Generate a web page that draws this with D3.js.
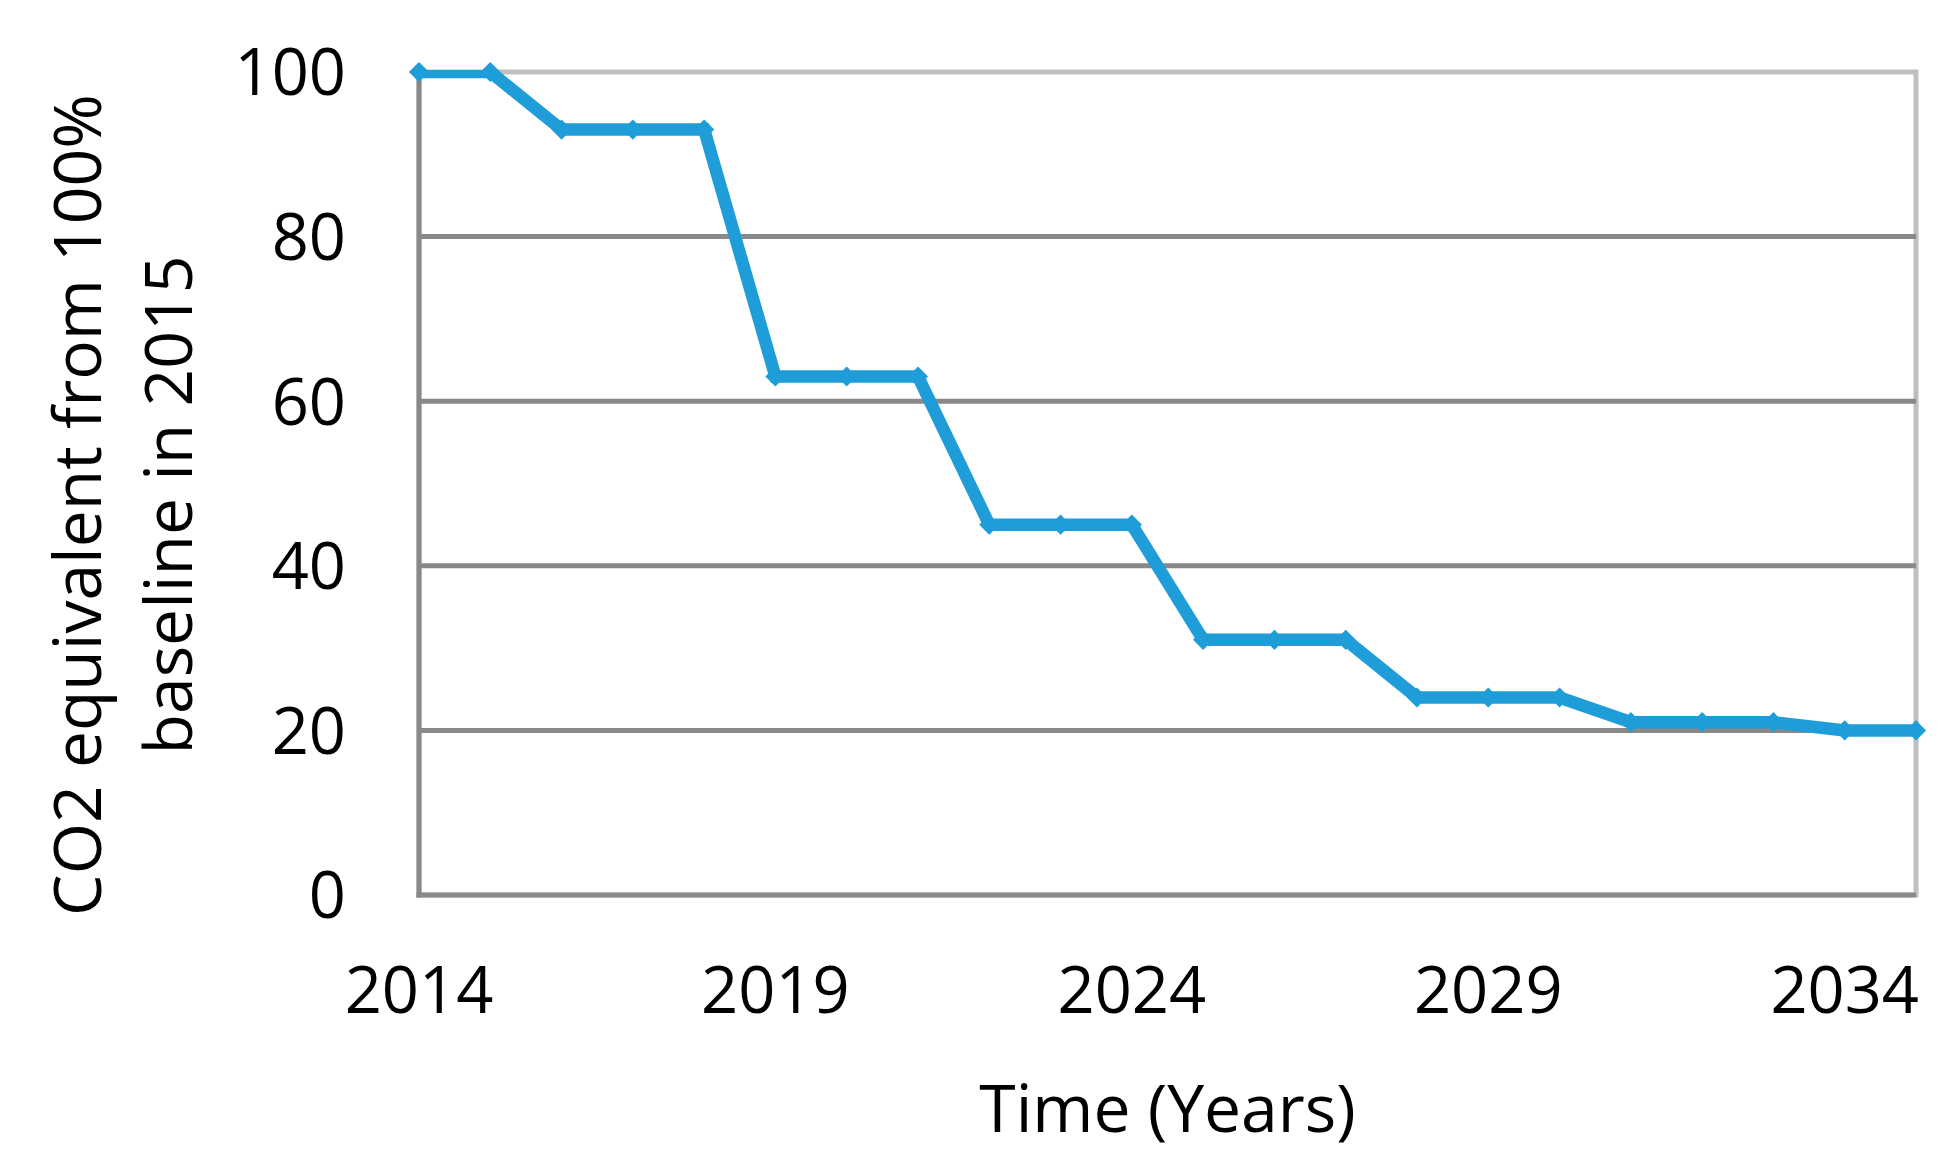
<!DOCTYPE html>
<html>
<head>
<meta charset="utf-8">
<script src="https://cdn.jsdelivr.net/npm/d3@7/dist/d3.min.js"></script>
<style>
  body { margin: 0; background: #fff; }
  svg text { font-family: "Open Sans", "Noto Sans", sans-serif; fill: #000; }
</style>
</head>
<body>
<div id="chart"></div>
<script>
var width = 1960;
var height = 1174;

// data
var years = [2014, 2015, 2016, 2017, 2018, 2019, 2020, 2021, 2022, 2023, 2024,
  2025, 2026, 2027, 2028, 2029, 2030, 2031, 2032, 2033, 2034, 2035];
var co2 = [100, 100, 93, 93, 93, 63, 63, 63, 45, 45, 45,
  31, 31, 31, 24, 24, 24, 21, 21, 21, 20, 20];
var yTicks = [0, 20, 40, 60, 80, 100];
var xTicks = [2014, 2019, 2024, 2029, 2034];
var xTitle = "Time (Years)";
var yTitle = ["CO2 equivalent from 100%", "baseline in 2015"];

var colorSet = {
  line: "#1e9dd9",
  grid: "#898989",
  border: "#bfbfbf"
};

var plot = { left: 419, right: 1916, top: 72, bottom: 895 };

var x = d3.scaleLinear()
  .domain([2014, 2035])
  .range([plot.left, plot.right]);

var y = d3.scaleLinear()
  .domain([0, 100])
  .range([plot.bottom, plot.top]);

var svg = d3.select("#chart")
  .append("svg")
  .attr("width", width)
  .attr("height", height);

// plot frame (light) : top and right
svg.append("rect")
  .attr("x", plot.left)
  .attr("y", plot.top)
  .attr("width", plot.right - plot.left)
  .attr("height", plot.bottom - plot.top)
  .attr("fill", "none")
  .attr("stroke", colorSet.border)
  .attr("stroke-width", 5);

// gridlines
svg.selectAll("line.grid")
  .data(yTicks.filter(function (d) { return d > 0 && d < 100; }))
  .enter()
  .append("line")
  .attr("class", "grid")
  .attr("x1", plot.left)
  .attr("x2", plot.right)
  .attr("y1", function (d) { return y(d); })
  .attr("y2", function (d) { return y(d); })
  .attr("stroke", colorSet.grid)
  .attr("stroke-width", 5);

// axis lines
svg.append("line")
  .attr("x1", plot.left).attr("x2", plot.left)
  .attr("y1", plot.top).attr("y2", plot.bottom + 2.5)
  .attr("stroke", colorSet.grid)
  .attr("stroke-width", 5);
svg.append("line")
  .attr("x1", plot.left - 2.5).attr("x2", plot.right)
  .attr("y1", plot.bottom).attr("y2", plot.bottom)
  .attr("stroke", colorSet.grid)
  .attr("stroke-width", 5);

// tick labels
svg.selectAll("text.ytick")
  .data(yTicks)
  .enter()
  .append("text")
  .attr("class", "ytick")
  .attr("x", 346)
  .attr("y", function (d) { return y(d); })
  .attr("dy", "0.36em")
  .attr("text-anchor", "end")
  .style("font-size", "65px")
  .text(function (d) { return d; });

svg.selectAll("text.xtick")
  .data(xTicks)
  .enter()
  .append("text")
  .attr("class", "xtick")
  .attr("x", function (d) { return x(d); })
  .attr("y", 1013)
  .attr("text-anchor", "middle")
  .style("font-size", "65px")
  .text(function (d) { return d; });

// axis titles
svg.append("text")
  .attr("x", (plot.left + plot.right) / 2)
  .attr("y", 1132)
  .attr("text-anchor", "middle")
  .style("font-size", "66px")
  .text(xTitle);

svg.selectAll("text.ytitle")
  .data(yTitle)
  .enter()
  .append("text")
  .attr("class", "ytitle")
  .attr("text-anchor", "middle")
  .attr("transform", function (d, i) {
    return "translate(" + (101 + i * 91) + ",505) rotate(-90)";
  })
  .style("font-size", "66px")
  .text(function (d) { return d; });

// the line is clipped to the plot area like the original
svg.append("clipPath")
  .attr("id", "plotClip")
  .append("rect")
  .attr("x", plot.left)
  .attr("y", plot.top - 2)
  .attr("width", plot.right - plot.left)
  .attr("height", plot.bottom - plot.top + 2);

var line = d3.line()
  .x(function (d, i) { return x(years[i]); })
  .y(function (d) { return y(d); });

svg.append("path")
  .datum(co2)
  .attr("d", line)
  .attr("clip-path", "url(#plotClip)")
  .attr("fill", "none")
  .attr("stroke", colorSet.line)
  .attr("stroke-width", 12.5)
  .attr("stroke-linejoin", "miter");

// diamond markers
var diamond = d3.symbol().type(d3.symbolDiamond2).size(260);
svg.selectAll("path.marker")
  .data(co2)
  .enter()
  .append("path")
  .attr("class", "marker")
  .attr("d", diamond)
  .attr("transform", function (d, i) {
    return "translate(" + x(years[i]) + "," + y(d) + ")";
  })
  .attr("fill", colorSet.line);
</script>
</body>
</html>
